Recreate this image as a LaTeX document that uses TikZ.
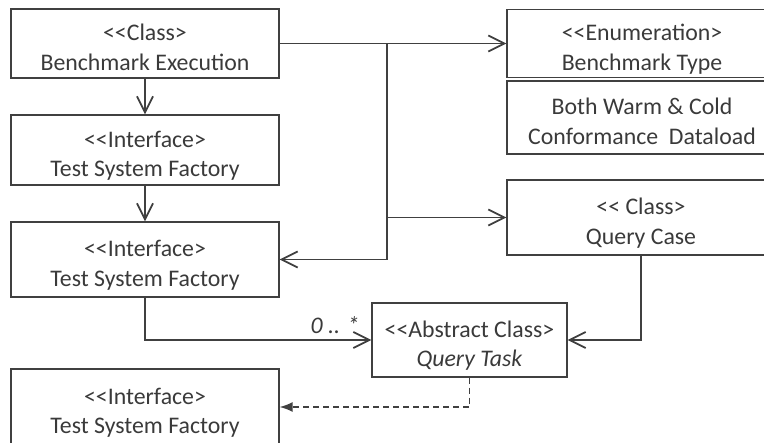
\documentclass[tikz,border=0pt]{standalone}
\usepackage{fontspec}
\setmainfont{Carlito}[Ligatures=TeXOff]
\usepackage{tikz}
\usetikzlibrary{arrows.meta,calc,positioning}

\definecolor{linec}{HTML}{404040}
\definecolor{textc}{HTML}{3A3A3A}
\tikzset{
  umlbox/.style={draw=linec, line width=1.3pt, minimum width=268pt, minimum height=70pt,
    align=center, text=textc, inner sep=0pt, font=\fontsize{23.8}{29.5}\selectfont,
    text height=59pt, text depth=5.7pt},
  assoc/.style={draw=linec, line width=1.8pt, -{Straight Barb[length=16pt,width=16pt,line width=1.8pt]}},
  realize/.style={draw=linec, line width=1.5pt, dash pattern=on 6pt off 4pt, -{Latex[length=13pt,width=10pt]}}
}

\begin{document}
\begin{tikzpicture}[x=1pt,y=-1pt]
\useasboundingbox (0,0) rectangle (764,443);
\clip (0,0) rectangle (764,443);
\node[umlbox, minimum height=69pt] (bench) at (145,43.5) {<<Class>\\Benchmark Execution};
\node[umlbox] (tsfa) at (145,150) {<<Interface>\\Test System Factory};
\node[umlbox, minimum height=75pt] (tsfb) at (145,259.5) {<<Interface>\\Test System Factory};
\node[umlbox, minimum height=76pt] (tsfc) at (145,407) {<<Interface>\\Test System Factory};
\node[umlbox, minimum width=270pt, minimum height=68pt] (btype) at (642,43.5) {<<Enumeration>\\Benchmark Type};
\node[umlbox, minimum width=270pt, minimum height=73pt] (bvals) at (642,117.5) {Both Warm \& Cold\\Conformance\ \ Dataload};
\node[umlbox, minimum height=75pt] (qcase) at (641,217.5) {<< Class>\\Query Case};
\node[umlbox, minimum width=195pt, minimum height=74pt] (qtask) at (469.5,340) {<<Abstract Class>\\\textit{Query Task}};
\coordinate (split) at (387,43.5);
\draw[assoc] (bench) -- (tsfa);
\draw[assoc] (tsfa) -- (tsfb);
\draw[assoc] (bench.east) -- (btype.west);
\draw[assoc] (split) |- (tsfb.east);
\draw[assoc] (split |- qcase.west) -- (qcase.west);
\draw[assoc] (qcase.south) |- (qtask.east);
\draw[assoc] (tsfb.south) |- (qtask.west);
\node[anchor=south east, xshift=-11pt, yshift=5pt, inner sep=1pt, text=textc,
  font=\fontsize{23.8}{29.5}\selectfont\itshape] (mult) at (qtask.west) {0 .. *};
\draw[realize] (qtask.south) |- (tsfc.east);
\end{tikzpicture}
\end{document}
